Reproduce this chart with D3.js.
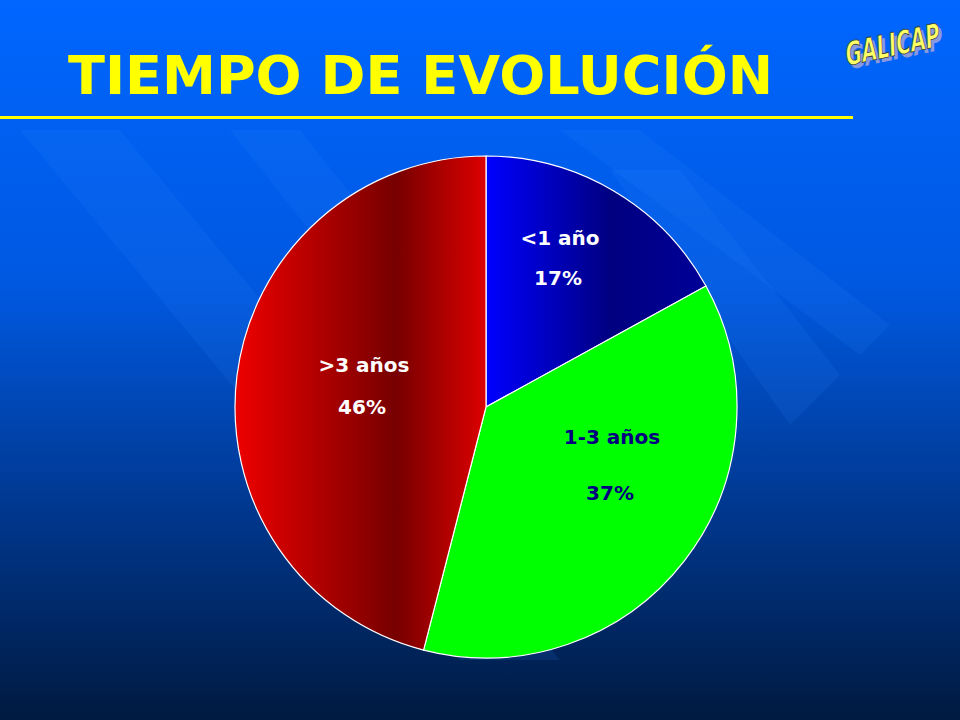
<!DOCTYPE html>
<html><head><meta charset="utf-8">
<script src="https://cdn.jsdelivr.net/npm/d3@7"></script>
<style>body{margin:0;background:#000}</style></head>
<body><script>
const categories = ["<1 año", "1-3 años", ">3 años"];
const values = [17, 37, 46];
const labels = ["17%", "37%", "46%"];

const W = 960, H = 720;
const svg = d3.select("body").append("svg").attr("width", W).attr("height", H);
const defs = svg.append("defs");
const bg = defs.append("linearGradient").attr("id", "bg").attr("x1", 0).attr("y1", 0).attr("x2", 0).attr("y2", 1);
bg.append("stop").attr("offset", "0").attr("stop-color", "#0066ff");
bg.append("stop").attr("offset", "0.4").attr("stop-color", "#0058e0");
bg.append("stop").attr("offset", "0.75").attr("stop-color", "#003383");
bg.append("stop").attr("offset", "1").attr("stop-color", "#001a40");
svg.append("rect").attr("width", W).attr("height", H).attr("fill", "url(#bg)");

const stripes = [[[20,130],[120,130],[560,660],[460,660]],[[230,130],[300,130],[640,560],[570,560]],
 [[560,130],[640,130],[890,325],[860,355]],[[610,170],[680,170],[840,375],[790,425]]];
svg.selectAll(".st").data(stripes).enter().append("polygon")
  .attr("points", d => d.map(p => p.join(",")).join(" "))
  .attr("fill", "#3388ff").attr("opacity", 0.12);

svg.append("text").attr("x", 68).attr("y", 94).attr("fill", "#ffff00")
  .attr("font-family", "DejaVu Sans").attr("font-weight", "bold").attr("font-size", 54)
  .attr("textLength", 705).attr("lengthAdjust", "spacingAndGlyphs").text("TIEMPO DE EVOLUCIÓN");
svg.append("rect").attr("x", 0).attr("y", 116).attr("width", 853).attr("height", 3).attr("fill", "#ffff00");

const logo = svg.append("g").attr("transform", "translate(846,66) rotate(-12) skewX(-10)");
logo.append("text").attr("x", 3).attr("y", 4).attr("fill", "#8899dd").attr("font-family", "DejaVu Sans Condensed")
  .attr("font-weight", "bold").attr("font-size", 32).attr("textLength", 96).attr("lengthAdjust","spacingAndGlyphs").text("GALICAP");
logo.append("text").attr("x", 0).attr("y", 0).attr("fill", "#ffff66").attr("stroke", "#333").attr("stroke-width", 0.8)
  .attr("font-family", "DejaVu Sans Condensed").attr("font-weight", "bold").attr("font-size", 32).attr("textLength", 96).attr("lengthAdjust","spacingAndGlyphs").text("GALICAP");

const cx = 486, cy = 407, R = 251;
function grad(id, stops) {
  const g = defs.append("linearGradient").attr("id", id).attr("gradientUnits", "userSpaceOnUse")
    .attr("x1", -R).attr("y1", 0).attr("x2", R).attr("y2", 0);
  stops.forEach(s => g.append("stop").attr("offset", s[0]).attr("stop-color", s[1]));
}
grad("gRed", [[0, "#ee0000"], [0.32, "#770000"], [0.5, "#dd0000"]]);
grad("gBlue", [[0.5, "#0000ff"], [0.75, "#000080"], [1, "#0000a0"]]);
const fills = ["url(#gBlue)", "#00ff00", "url(#gRed)"];

const pie = d3.pie().sort(null).value(d => d)(values);
const arc = d3.arc().innerRadius(0).outerRadius(R);
const g = svg.append("g").attr("transform", `translate(${cx},${cy})`);
g.selectAll("path").data(pie).enter().append("path").attr("d", arc)
  .attr("fill", (d, i) => fills[i]).attr("stroke", "#fff").attr("stroke-width", 1.2);

const pos = [[[560,245],[558,285]], [[612,444],[610,500]], [[364,372],[362,414]]];
const cols = ["#fff", "#000080", "#fff"];
categories.forEach((c, i) => {
  [c, labels[i]].forEach((t, j) => {
    svg.append("text").attr("x", pos[i][j][0]).attr("y", pos[i][j][1]).attr("text-anchor", "middle")
      .attr("fill", cols[i]).attr("font-family", "DejaVu Sans").attr("font-weight", "bold")
      .attr("font-size", 20).text(t);
  });
});
</script></body></html>
